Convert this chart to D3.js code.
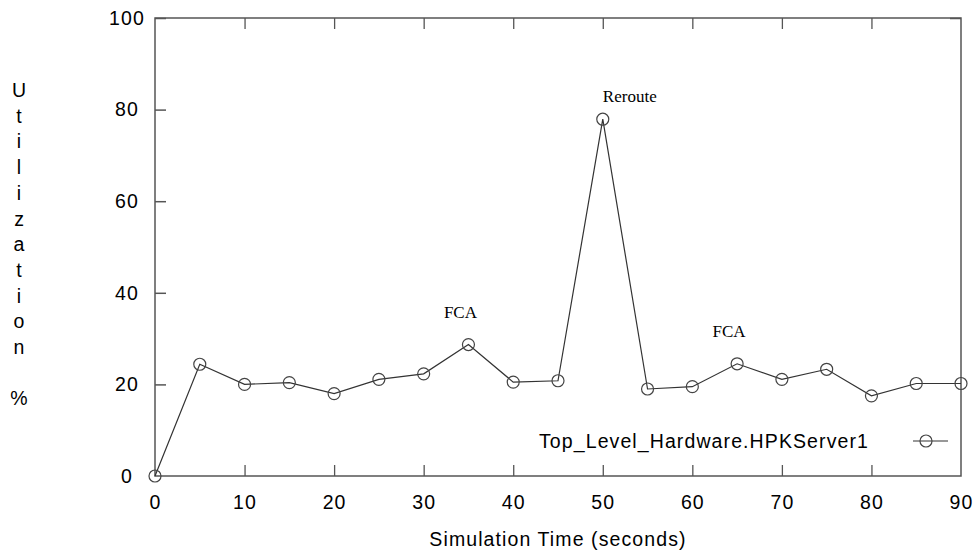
<!DOCTYPE html>
<html><head><meta charset="utf-8">
<script src="https://cdn.jsdelivr.net/npm/d3@7"></script>
<style>
html,body{margin:0;padding:0;background:#fff;}
svg{display:block;}
</style></head>
<body>
<svg id="chart" width="979" height="559"></svg>
<script>
const times = [0,5,10,15,20,25,30,35,40,45,50,55,60,65,70,75,80,85,90];
const utilization = [0,24.4,20.0,20.4,18.0,21.1,22.3,28.7,20.5,20.8,77.9,19.0,19.5,24.5,21.1,23.3,17.5,20.2,20.2];
const xTicks = [0,10,20,30,40,50,60,70,80,90];
const yTicks = [0,20,40,60,80,100];
const seriesName = "Top_Level_Hardware.HPKServer1";
const annotations = [
  {t:35, v:28.7, text:"FCA"},
  {t:50, v:77.9, text:"Reroute"},
  {t:65, v:24.5, text:"FCA"}
];
const yTitleLetters = ["U","t","i","l","i","z","a","t","i","o","n","","%"];

const svg = d3.select("#chart");
const L=155, R=961, T=18, B=476;
const x = d3.scaleLinear().domain([0,90]).range([L,R]);
const y = d3.scaleLinear().domain([0,100]).range([B,T]);
const axisColor="#555";
const font="'Liberation Sans', Arial, sans-serif";
const fs=19.5, ls=1.1;

// frame
svg.append("rect").attr("x",L).attr("y",T).attr("width",R-L).attr("height",B-T)
  .attr("fill","none").attr("stroke",axisColor).attr("stroke-width",1.5);

// bottom axis ticks (inward)
const gx = svg.append("g").attr("transform",`translate(0,${B})`)
  .call(d3.axisBottom(x).tickValues(xTicks).tickSizeInner(-11).tickSizeOuter(0).tickPadding(19));
gx.select(".domain").remove();
gx.selectAll(".tick line").attr("stroke",axisColor).attr("stroke-width",1.3);
gx.selectAll(".tick text").attr("font-family",font).attr("font-size",fs).attr("letter-spacing",ls).attr("fill","#000");
gx.selectAll(".tick").filter(d=>d===0||d===90).select("line").remove();

// top axis ticks (inward)
const gt = svg.append("g").attr("transform",`translate(0,${T})`)
  .call(d3.axisTop(x).tickValues(xTicks).tickSizeInner(-11).tickSizeOuter(0).tickFormat(""));
gt.select(".domain").remove();
gt.selectAll(".tick line").attr("stroke",axisColor).attr("stroke-width",1.3);
gt.selectAll(".tick").filter(d=>d===0||d===90).select("line").remove();

// left axis ticks (inward) with centered labels
const gy = svg.append("g").attr("transform",`translate(${L},0)`)
  .call(d3.axisLeft(y).tickValues(yTicks).tickSizeInner(-11).tickSizeOuter(0).tickPadding(0));
gy.select(".domain").remove();
gy.selectAll(".tick line").attr("stroke",axisColor).attr("stroke-width",1.5);
gy.selectAll(".tick").filter(d=>d===0).select("line").remove();
gy.selectAll(".tick text").attr("x",-28).attr("text-anchor","middle")
  .attr("font-family",font).attr("font-size",fs).attr("letter-spacing",ls).attr("fill","#000");

// right axis top tick
const gr = svg.append("g").attr("transform",`translate(${R},0)`)
  .call(d3.axisRight(y).tickValues([100]).tickSizeInner(-11).tickSizeOuter(0).tickFormat(""));
gr.select(".domain").remove();
gr.selectAll(".tick line").attr("stroke",axisColor).attr("stroke-width",1.5);

// data line
const data = times.map((t,i)=>({t, v:utilization[i]}));
svg.append("path").datum(data)
  .attr("fill","none").attr("stroke","#333").attr("stroke-width",1.2)
  .attr("d", d3.line().x(d=>x(d.t)).y(d=>y(d.v)));
svg.append("g").selectAll("circle").data(data).join("circle")
  .attr("cx",d=>x(d.t)).attr("cy",d=>y(d.v)).attr("r",6)
  .attr("fill","none").attr("stroke","#444").attr("stroke-width",1.2);

// annotations
svg.append("g").selectAll("text").data(annotations).join("text")
  .attr("x",d=>x(d.t)+(d.text==="Reroute"?27:-8)).attr("y",d=>y(d.v)-(d.text==="Reroute"?17:27))
  .attr("text-anchor","middle")
  .attr("font-family","'Liberation Serif', 'Times New Roman', serif").attr("font-size",17).attr("fill","#000")
  .text(d=>d.text);

// legend
svg.append("text").attr("x",539).attr("y",448).attr("font-family",font).attr("font-size",fs)
  .attr("letter-spacing",ls).attr("fill","#000").text(seriesName);
svg.append("line").attr("x1",913).attr("x2",948).attr("y1",441).attr("y2",441)
  .attr("stroke","#333").attr("stroke-width",1.2);
svg.append("circle").attr("cx",926).attr("cy",441).attr("r",6)
  .attr("fill","none").attr("stroke","#444").attr("stroke-width",1.2);

// x title
svg.append("text").attr("x",558).attr("y",546).attr("text-anchor","middle")
  .attr("font-family",font).attr("font-size",fs).attr("letter-spacing",ls).attr("fill","#000")
  .text("Simulation Time (seconds)");

// y title stacked letters
svg.append("g").selectAll("text").data(yTitleLetters).join("text")
  .attr("x",19).attr("y",(d,i)=>97+i*25.7).attr("text-anchor","middle")
  .attr("font-family",font).attr("font-size",fs).attr("fill","#000")
  .text(d=>d);
</script>
</body></html>
